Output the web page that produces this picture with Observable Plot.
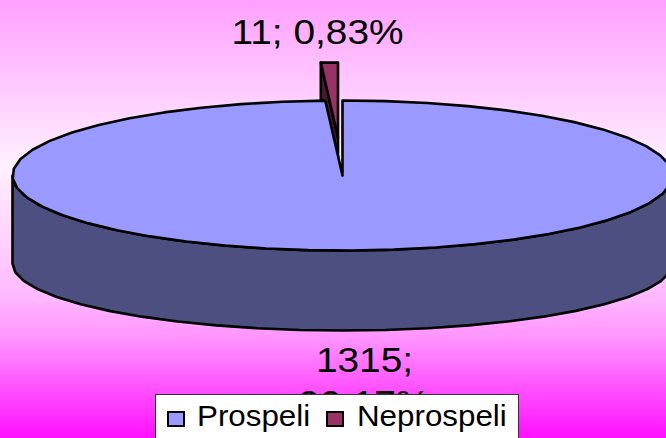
<!DOCTYPE html>
<html>
<head>
<meta charset="utf-8">
<script src="https://cdn.jsdelivr.net/npm/d3@7"></script>
<script src="https://cdn.jsdelivr.net/npm/@observablehq/plot@0.6"></script>
<style>
html,body{margin:0;padding:0;width:666px;height:438px;overflow:hidden;background:#fff}
#chart{position:relative;width:666px;height:438px;overflow:hidden;font-family:"Liberation Sans",Arial,sans-serif}
#chart svg{display:block}
#legend{position:absolute;left:155px;top:394px;width:364px;height:60px;box-sizing:border-box;background:#fff;border:1px solid #333;color:#000;font-size:29px;line-height:1}
.sw{position:absolute;top:16px;width:18px;height:16px;border:2px solid #000;box-sizing:border-box}
.lb{position:absolute;top:7px;transform-origin:left top;transform:scaleX(1.08);white-space:nowrap}
</style>
</head>
<body>
<div id="chart"></div>
<script>
const categories = ["Prospeli", "Neprospeli"];
const values = [1315, 11];
const labels = ["1315;\n99,17%", "11; 0,83%"];
const topColors = ["#9999FF", "#993366"];
const sideColors = ["#4D4F80", "#4D1A33"];

const W = 666, H = 438;
const cx = 342, cy = 175, rx = 330, ry = 75;
const baseCy = 263, baseRy = 67;
const total = d3.sum(values);
const sweep = values.map(v => v / total * 2 * Math.PI);
const rim = (a, dx = 0, dy = 0, yc = cy, yr = ry) => [cx + dx + rx * Math.sin(a), yc + dy - yr * Math.cos(a)];
const arc = (a0, a1, step, dx = 0, dy = 0, yc = cy, yr = ry) => {
  const n = Math.max(1, Math.round((a1 - a0) / step));
  return d3.range(n + 1).map(i => rim(a0 + (a1 - a0) * i / n, dx, dy, yc, yr));
};
const step = Math.PI / 24;
const close = p => [...p, p[0]];

// big slice: from 12 o'clock clockwise
const bigEnd = sweep[0];
const bigTop = close([[cx, cy], ...arc(0, bigEnd, step)]);
const bigSide = close([...arc(Math.PI / 2, 3 * Math.PI / 2, step), ...arc(Math.PI / 2, 3 * Math.PI / 2, step, 0, 0, baseCy, baseRy).reverse()]);

// small slice pulled out of the pie
const ox = -4.5, oy = -38;
const smallTop = close([[cx + ox, cy + oy], ...arc(bigEnd, 2 * Math.PI, step, ox, oy)]);
const smallFace = close([rim(bigEnd, ox, oy), rim(bigEnd, ox, oy + 80), [cx + ox, cy + oy + 80], [cx + ox, cy + oy]]);

const poly = (pts, fill) => Plot.line(pts, {x: d => d[0], y: d => d[1], fill, stroke: "#000", strokeWidth: 2.6, strokeLinejoin: "round", curve: "linear"});

const chart = Plot.plot({
  width: W, height: H,
  margin: 0,
  x: {domain: [0, W], axis: null},
  y: {domain: [H, 0], axis: null},
  style: {background: "linear-gradient(180deg,#ffa0ff 0%,#fff0ff 38%,#ffb8ff 68%,#ff90ff 78%,#ff10ff 100%)", overflow: "hidden"},
  marks: [
    poly(smallFace, sideColors[1]),
    poly(smallTop, topColors[1]),
    poly(bigSide, sideColors[0]),
    poly(bigTop, topColors[0]),
    Plot.text([labels[1]], {x: 317, y: 32, text: d => d, fontSize: 35, fill: "#000", fontFamily: "Liberation Sans, Arial, sans-serif"}),
    Plot.text([labels[0]], {x: 364, y: 379, text: d => d, fontSize: 35, lineHeight: 1.22, fill: "#000", fontFamily: "Liberation Sans, Arial, sans-serif"})
  ]
});
const host = document.getElementById("chart");
host.appendChild(chart);
chart.querySelectorAll("text").forEach(t => {
  const lines = t.querySelectorAll("tspan");
  (lines.length ? lines : [t]).forEach(el => {
    el.setAttribute("textLength", (el.getComputedTextLength() * 1.11).toFixed(1));
    el.setAttribute("lengthAdjust", "spacingAndGlyphs");
  });
});

const legend = document.createElement("div");
legend.id = "legend";
const lx = [[11, 41], [170, 201]];
categories.forEach((c, i) => {
  const s = document.createElement("span");
  s.className = "sw"; s.style.left = lx[i][0] + "px"; s.style.background = topColors[i];
  const t = document.createElement("span");
  t.className = "lb"; t.style.left = lx[i][1] + "px"; t.textContent = c;
  legend.append(s, t);
});
host.appendChild(legend);
</script>
</body>
</html>
